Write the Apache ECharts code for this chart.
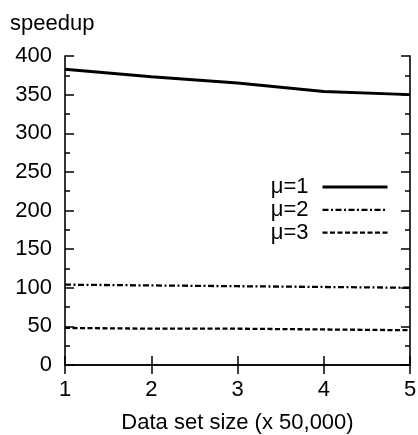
<!DOCTYPE html>
<html>
<head>
<meta charset="utf-8">
<script src="https://cdn.jsdelivr.net/npm/echarts@6/dist/echarts.min.js"></script>
<style>
  html, body { margin: 0; padding: 0; background: #fff; }
  #chart { width: 418px; height: 435px; }
</style>
</head>
<body>
<div id="chart"></div>
<script>
// Data set size in units of 50,000 records
const sizes = [1, 2, 3, 4, 5];
// Speedup measured for each value of mu
const speedupMu1 = [383, 373, 365, 354, 350];
const speedupMu2 = [104, 103, 102, 101, 100];
const speedupMu3 = [48, 47, 47, 46, 45];
const seriesNames = ['\u03bc=1', '\u03bc=2', '\u03bc=3'];

const FONT = 'Liberation Sans, Arial, Helvetica, sans-serif';
const FS = 22;

// Line styles shared by the plotted series and their legend keys
const styles = [
  { color: '#000', width: 3, type: 'solid' },
  { color: '#000', width: 2.3, type: [6, 2.5, 2, 2.5] },
  { color: '#000', width: 2.3, type: [5, 2.5] }
];

function pairs(values) {
  return sizes.map((s, i) => [s, values[i]]);
}

const frameLine = { show: true, lineStyle: { color: '#000', width: 1.6 } };
const tickStyle = { color: '#000', width: 1.5 };

const chart = echarts.init(document.getElementById('chart'), null, { renderer: 'canvas' });
chart.setOption({
  animation: false,
  backgroundColor: '#fff',
  title: {
    text: 'speedup',
    left: 10,
    top: 13,
    padding: 0,
    textStyle: { fontFamily: FONT, fontSize: FS, fontWeight: 'normal', color: '#000' }
  },
  grid: {
    left: 65, right: 8, top: 56, bottom: 70,
    containLabel: false,
    outerBoundsMode: 'none'
  },
  legend: {
    orient: 'vertical',
    align: 'right',
    right: 29,
    top: 176,
    padding: 0,
    itemWidth: 65,
    itemHeight: 14,
    itemGap: 0.8,
    data: seriesNames.map((name, i) => ({ name: name, lineStyle: styles[i] })),
    itemStyle: { opacity: 0 },
    textStyle: { fontFamily: FONT, fontSize: FS, lineHeight: 20, color: '#000', padding: [0, 9, 0, 0] }
  },
  xAxis: [
    {
      type: 'value', min: 1, max: 5, interval: 1, position: 'bottom',
      name: 'Data set size (x 50,000)', nameLocation: 'middle', nameGap: 47,
      nameTextStyle: { fontFamily: FONT, fontSize: FS, color: '#000' },
      axisLine: frameLine,
      axisTick: { inside: true, length: 9, lineStyle: tickStyle },
      axisLabel: { fontFamily: FONT, fontSize: FS, color: '#000', margin: 14 },
      splitLine: { show: false }
    },
    {
      type: 'value', min: 1, max: 5, interval: 1, position: 'top',
      axisLine: frameLine,
      axisTick: { inside: true, length: 9, lineStyle: tickStyle },
      axisLabel: { show: false },
      splitLine: { show: false }
    }
  ],
  yAxis: [
    {
      type: 'value', min: 0, max: 400, interval: 50, position: 'left',
      axisLine: frameLine,
      axisTick: { inside: true, length: 9, lineStyle: tickStyle },
      minorTick: { show: true, splitNumber: 2, length: 5, lineStyle: tickStyle },
      axisLabel: { fontFamily: FONT, fontSize: FS, color: '#000', margin: 13 },
      splitLine: { show: false }
    },
    {
      type: 'value', min: 0, max: 400, interval: 50, position: 'right',
      axisLine: frameLine,
      axisTick: { inside: true, length: 9, lineStyle: tickStyle },
      minorTick: { show: true, splitNumber: 2, length: 5, lineStyle: tickStyle },
      axisLabel: { show: false },
      splitLine: { show: false }
    }
  ],
  series: [speedupMu1, speedupMu2, speedupMu3].map((values, i) => ({
    name: seriesNames[i],
    type: 'line',
    data: pairs(values),
    showSymbol: false,
    symbol: 'none',
    color: '#000',
    lineStyle: styles[i]
  }))
});
</script>
</body>
</html>
